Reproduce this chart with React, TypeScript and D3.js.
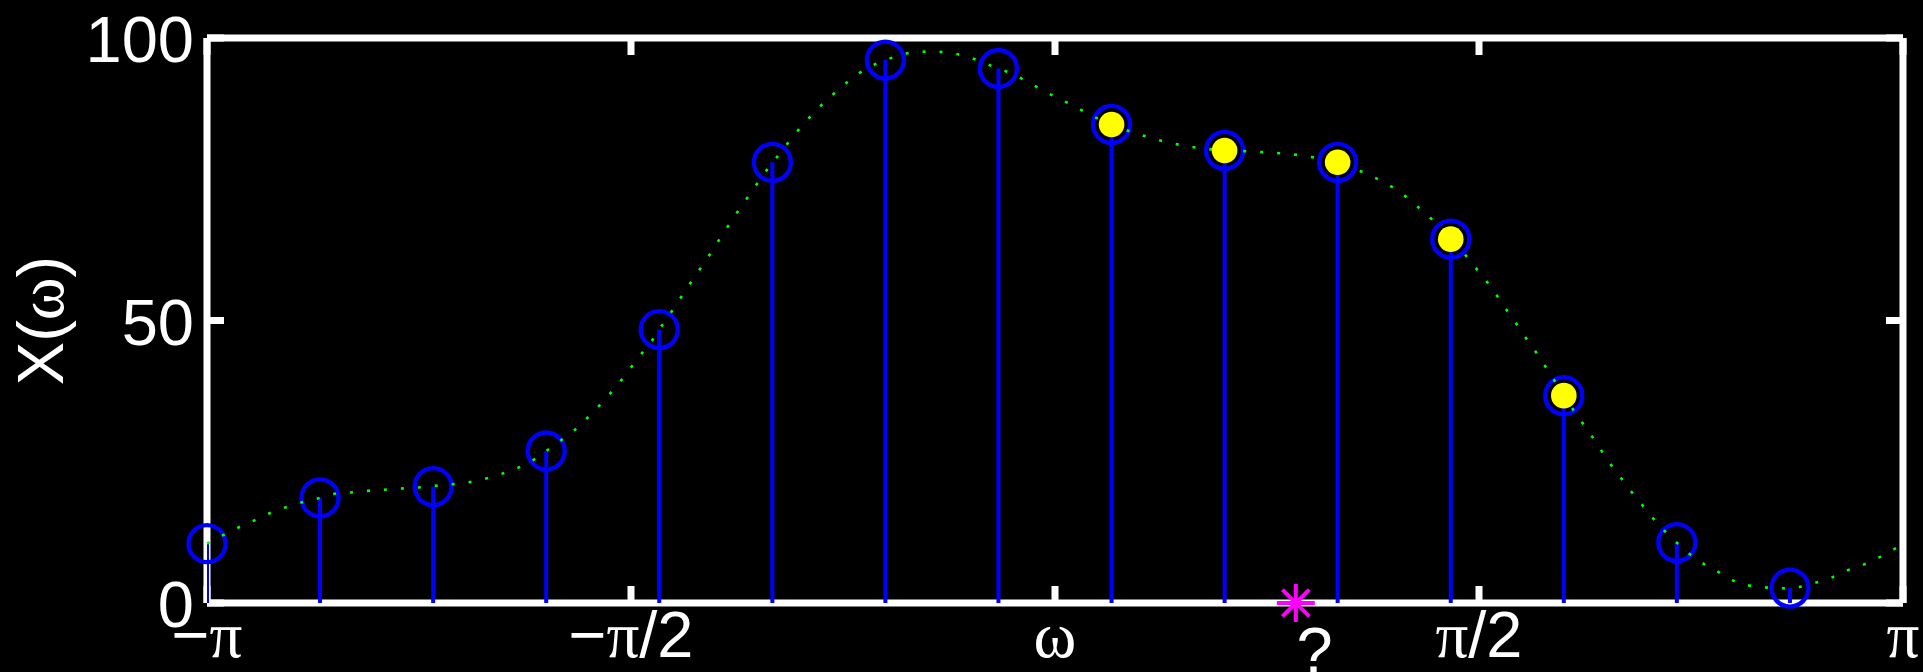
import React from 'react';
import * as d3 from 'd3';

// ---- data (omega values in multiples of pi) ----
const sampleOmegaPi = [-1, -0.8667, -0.7333, -0.6, -0.4667, -0.3333, -0.2, -0.0667, 0.0667, 0.2, 0.3333, 0.4667, 0.6, 0.7333, 0.8667];
const sampleValues = [10.5, 18.6, 20.6, 26.9, 48.4, 78.0, 96.1, 94.6, 84.7, 80.1, 78.0, 64.4, 36.7, 10.7, 2.65];
const filledIndices = [8, 9, 10, 11, 12];

const curveOmegaPi = [
  -1.0, -0.961, -0.943, -0.924, -0.906, -0.886, -0.867, -0.847, -0.827, -0.807, -0.787, -0.767, -0.747, -0.733,
  -0.706, -0.686, -0.667, -0.648, -0.629, -0.611, -0.6, -0.578, -0.562, -0.548, -0.534, -0.521, -0.508, -0.496,
  -0.483, -0.471, -0.467, -0.46, -0.449, -0.438, -0.427, -0.415, -0.404, -0.393, -0.382, -0.371, -0.359, -0.348,
  -0.333, -0.323, -0.311, -0.298, -0.284, -0.27, -0.255, -0.24, -0.223, -0.2, -0.186, -0.166, -0.146, -0.126,
  -0.106, -0.067, -0.049, -0.032, -0.014, 0.004, 0.022, 0.04, 0.067, 0.096, 0.116, 0.134, 0.154, 0.2, 0.235,
  0.255, 0.275, 0.295, 0.333, 0.371, 0.39, 0.408, 0.423, 0.438, 0.467, 0.48, 0.493, 0.506, 0.518, 0.529, 0.541,
  0.552, 0.564, 0.575, 0.586, 0.6, 0.619, 0.631, 0.642, 0.653, 0.665, 0.677, 0.69, 0.703, 0.733, 0.761, 0.779,
  0.796, 0.815, 0.835, 0.856, 0.867, 0.876, 0.895, 0.914, 0.933, 0.952, 0.971, 0.989, 1.0,
];
const curveValues = [
  10.5, 13.5, 14.7, 16.0, 17.0, 17.9, 18.6, 19.4, 19.6, 19.9, 20.1, 20.3, 20.5, 20.7,
  21.1, 21.5, 22.2, 23.1, 24.2, 25.7, 26.9, 29.3, 31.2, 33.3, 35.5, 37.7, 40.1, 42.5,
  45.0, 47.4, 48.4, 49.8, 52.3, 54.8, 57.3, 59.9, 62.4, 65.0, 67.5, 70.0, 72.5, 74.9,
  78.0, 79.8, 82.2, 84.5, 86.8, 88.9, 90.9, 92.8, 94.5, 96.1, 96.8, 97.5, 97.6, 97.4,
  96.8, 94.6, 93.6, 92.2, 90.7, 89.3, 88.0, 86.5, 84.7, 83.1, 82.2, 81.5, 80.9, 80.1, 79.9,
  79.7, 79.5, 79.1, 78.0, 75.7, 74.3, 72.6, 70.7, 68.8, 64.4, 62.3, 59.9, 57.5, 55.1, 52.6, 50.1,
  47.6, 45.1, 42.6, 40.1, 36.7, 32.5, 30.0, 27.5, 25.0, 22.6, 20.2, 17.8, 15.4, 10.7, 7.3, 5.8,
  4.2, 3.2, 2.8, 2.6, 2.65, 2.8, 3.5, 4.4, 5.7, 6.7, 8.0, 9.5, 10.4,
];

const xTickPi = [-1, -0.5, 0, 0.5, 1];
const xTickLabels = ['−π', '−π/2', 'ω', 'π/2', 'π'];
const yTicks = [0, 50, 100];
const yLabel = 'X(ω)';
const markerOmegaPi = 0.284;
const markerValue = 0;
const extraLabelText = '?';
const extraLabelOmegaPi = 0.306;

// ---- layout ----
const W = 1923;
const H = 672;
const L = 207, R = 1903, T = 38, B = 603;
const FS = 65;
const SANS = '"Liberation Sans", Arial, Helvetica, sans-serif';
const SERIF = '"Liberation Serif", "Times New Roman", serif';

function MathText({ text }: { text: string }) {
  const parts: { s: string; serif: boolean }[] = [];
  for (const ch of text) {
    const serif = ch === 'π' || ch === 'ω';
    const last = parts[parts.length - 1];
    if (last && last.serif === serif) last.s += ch;
    else parts.push({ s: ch, serif });
  }
  return (
    <>
      {parts.map((p, i) => (
        <tspan key={i} fontFamily={p.serif ? SERIF : SANS}>{p.s}</tspan>
      ))}
    </>
  );
}

export default function App() {
  const x = d3.scaleLinear().domain([-Math.PI, Math.PI]).range([L, R]);
  const y = d3.scaleLinear().domain([0, 100]).range([B, T]);

  const curvePts: [number, number][] = curveOmegaPi.map((w, i) => [w * Math.PI, curveValues[i]]);
  const line = d3
    .line<[number, number]>()
    .x((d) => x(d[0]))
    .y((d) => y(d[1]))
    .curve(d3.curveMonotoneX);

  const tickLen = 17;
  const axisW = 7;
  const mx = x(markerOmegaPi * Math.PI);
  const my = y(markerValue);
  const a = 19;
  const dgl = a / Math.SQRT2;

  return (
    <svg
      width={W}
      height={H}
      style={{ position: 'absolute', left: 0, top: 0, background: '#000' }}
      fontFamily={SANS}
    >
      <defs>
        <clipPath id="plotclip">
          <rect x={L} y={T} width={R - L} height={B - T} />
        </clipPath>
      </defs>
      <rect x={0} y={0} width={W} height={H} fill="#000" />

      {/* axes box */}
      <g stroke="#fff" strokeWidth={axisW} strokeLinecap="butt">
        <line x1={L} y1={T} x2={R} y2={T} />
        <line x1={L} y1={B} x2={R} y2={B} />
        <line x1={L} y1={T} x2={L} y2={B} />
        <line x1={R} y1={T} x2={R} y2={B} />
        {xTickPi.map((t, i) => (
          <g key={'xt' + i}>
            <line x1={x(t * Math.PI)} x2={x(t * Math.PI)} y1={B} y2={B - tickLen} />
            <line x1={x(t * Math.PI)} x2={x(t * Math.PI)} y1={T} y2={T + tickLen} />
          </g>
        ))}
        {yTicks.map((t, i) => (
          <g key={'yt' + i}>
            <line x1={L} x2={L + tickLen} y1={y(t)} y2={y(t)} />
            <line x1={R} x2={R - tickLen} y1={y(t)} y2={y(t)} />
          </g>
        ))}
      </g>

      {/* stems */}
      <g clipPath="url(#plotclip)" stroke="#0000ff" strokeWidth={4}>
        {sampleValues.map((v, i) => (
          <line key={'s' + i} x1={x(sampleOmegaPi[i] * Math.PI)} x2={x(sampleOmegaPi[i] * Math.PI)} y1={y(0)} y2={y(v)} />
        ))}
      </g>

      {/* rings */}
      <g fill="none" stroke="#0000ff" strokeWidth={4.3}>
        {sampleValues.map((v, i) => (
          <circle key={'c' + i} cx={x(sampleOmegaPi[i] * Math.PI)} cy={y(v)} r={18.5} />
        ))}
      </g>

      {/* dotted curve */}
      <path
        d={line(curvePts) || ''}
        fill="none"
        stroke="#00ff00"
        strokeWidth={2.6}
        strokeDasharray="3 14"
      />

      {/* yellow dots */}
      <g fill="#ffff00">
        {filledIndices.map((k) => (
          <circle key={'f' + k} cx={x(sampleOmegaPi[k] * Math.PI)} cy={y(sampleValues[k])} r={12.8} />
        ))}
      </g>

      {/* magenta asterisk */}
      <g stroke="#ff00ff" strokeWidth={4}>
        <line x1={mx - a} x2={mx + a} y1={my} y2={my} />
        <line x1={mx} x2={mx} y1={my - a} y2={my + a} />
        <line x1={mx - dgl} x2={mx + dgl} y1={my - dgl} y2={my + dgl} />
        <line x1={mx - dgl} x2={mx + dgl} y1={my + dgl} y2={my - dgl} />
      </g>

      {/* y tick labels */}
      <g fill="#fff" fontSize={FS} textAnchor="end">
        {yTicks.map((t, i) => (
          <text key={'yl' + i} x={L - 13} y={y(t) + 24}>{t}</text>
        ))}
      </g>

      {/* x tick labels */}
      <g fill="#fff" fontSize={FS} textAnchor="middle">
        {xTickPi.map((t, i) => (
          <text key={'xl' + i} x={x(t * Math.PI)} y={657}>
            <MathText text={xTickLabels[i]} />
          </text>
        ))}
        <text x={x(extraLabelOmegaPi * Math.PI)} y={673}>{extraLabelText}</text>
      </g>

      {/* y label */}
      <text
        fill="#fff"
        fontSize={FS}
        textAnchor="middle"
        transform={`translate(63, ${(T + B) / 2}) rotate(-90)`}
      >
        <MathText text={yLabel} />
      </text>
    </svg>
  );
}
